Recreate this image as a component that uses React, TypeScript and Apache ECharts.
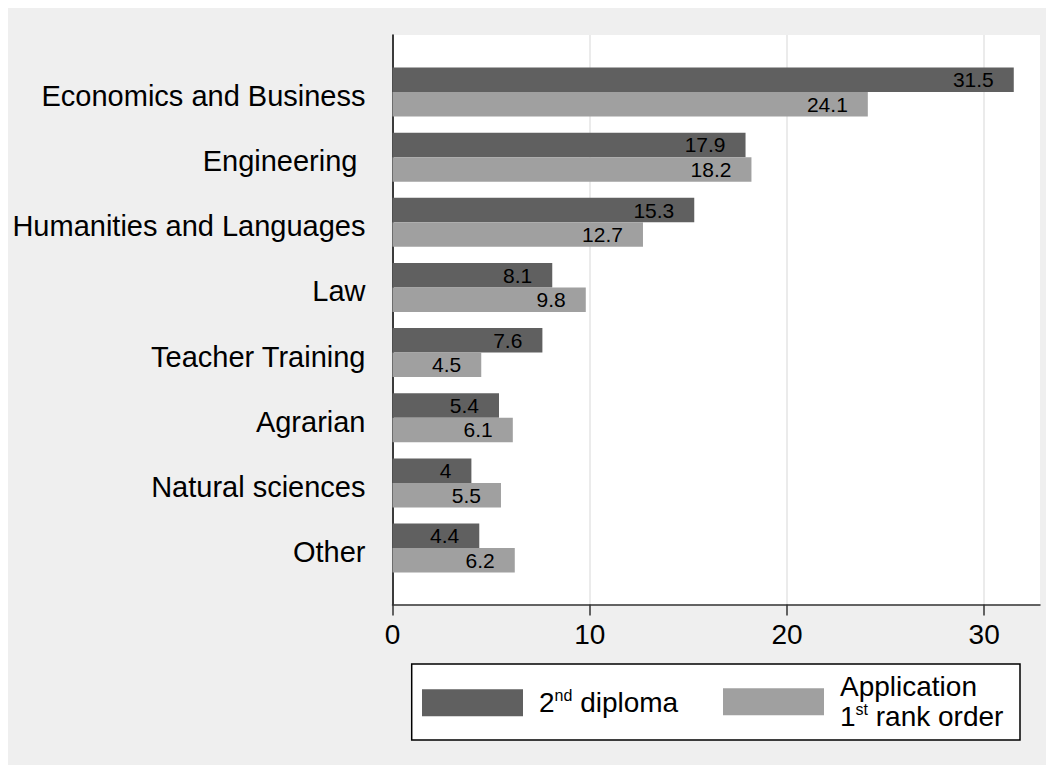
import React, { useEffect, useRef } from "react";
import * as echarts from "echarts";

const categories = [
  "Economics and Business",
  "Engineering ",
  "Humanities and Languages",
  "Law",
  "Teacher Training",
  "Agrarian",
  "Natural sciences",
  "Other",
];
const diploma = [31.5, 17.9, 15.3, 8.1, 7.6, 5.4, 4, 4.4];
const application = [24.1, 18.2, 12.7, 9.8, 4.5, 6.1, 5.5, 6.2];
const xTicks = [0, 10, 20, 30];
const seriesNames = ["2nd diploma", "Application 1st rank order"];

const XMAX = 32.83;
const FONT = "'Liberation Sans', Arial, Helvetica, sans-serif";

export default function App() {
  const ref = useRef<HTMLDivElement>(null);
  useEffect(() => {
    if (!ref.current) return;
    const chart = echarts.init(ref.current, null, { renderer: "svg" });
    const rich = {
      a: { fontSize: 28, color: "#000", lineHeight: 30, fontFamily: FONT },
      s: { fontSize: 16, color: "#000", lineHeight: 18, verticalAlign: "top", fontFamily: FONT },
    };
    const legendBase = {
      orient: "horizontal",
      icon: "rect",
      itemWidth: 101,
      itemHeight: 27,
      padding: 0,
      selectedMode: false,
      textStyle: { fontSize: 28, color: "#000", padding: [0, 0, 0, 11], rich, fontFamily: FONT },
    };
    chart.setOption({
      animation: false,
      backgroundColor: "#efefef",
      textStyle: { fontFamily: FONT },
      grid: [
        { left: 384.5, top: 27, right: 6, bottom: 160.5, show: true, backgroundColor: "#fff", borderWidth: 0 },
        { left: 384.5, top: 51.4, right: 6, bottom: 184.4 },
      ],
      xAxis: [
        {
          gridIndex: 0,
          type: "value",
          min: 0,
          max: XMAX,
          interval: 10,
          axisLine: { show: true, onZero: false, lineStyle: { color: "#333", width: 1.5 } },
          axisTick: { show: true, length: 11, customValues: xTicks, lineStyle: { color: "#333", width: 1.5 } },
          axisLabel: { customValues: xTicks, fontSize: 28, color: "#000", margin: 16, fontFamily: FONT },
          splitLine: { show: true, lineStyle: { color: "#e4e4e4", width: 1.5 } },
        },
        { gridIndex: 1, type: "value", min: 0, max: XMAX, show: false },
      ],
      yAxis: [
        {
          gridIndex: 0,
          type: "value",
          min: 0,
          max: 1,
          axisLine: { show: true, onZero: false, lineStyle: { color: "#000", width: 1.5 } },
          axisTick: { show: false },
          axisLabel: { show: false },
          splitLine: { show: false },
        },
        {
          gridIndex: 1,
          type: "category",
          data: categories,
          inverse: true,
          axisLine: { show: false },
          axisTick: { show: false },
          axisLabel: {
            fontSize: 29,
            color: "#000",
            margin: 27,
            fontFamily: FONT,
            formatter: (v: string) => `{l|${v}}`,
            rich: { l: { fontSize: 29, color: "#000", fontFamily: FONT, padding: [8, 0, 0, 0] } },
          },
          splitLine: { show: false },
        },
      ],
      legend: [
        {
          ...legendBase,
          left: 414,
          top: 679.7,
          data: [seriesNames[0]],
          formatter: () => "{a|2}{s|nd}{a| diploma}",
        },
        {
          ...legendBase,
          left: 715,
          top: 664.7,
          data: [seriesNames[1]],
          formatter: () => "{a|Application}\n{a|1}{s|st}{a| rank order}",
        },
      ],
      graphic: [
        {
          type: "rect",
          z: 0,
          shape: { x: 403.7, y: 656, width: 608.3, height: 76 },
          style: { fill: "#fff", stroke: "#000", lineWidth: 1.5 },
          silent: true,
        },
      ],
      series: [
        {
          name: seriesNames[0],
          type: "bar",
          xAxisIndex: 1,
          yAxisIndex: 1,
          data: diploma,
          barWidth: 24.5,
          barGap: "0%",
          itemStyle: { color: "#606060" },
          label: { show: true, position: "insideRight", distance: 20, fontSize: 21, color: "#000", fontFamily: FONT },
        },
        {
          name: seriesNames[1],
          type: "bar",
          xAxisIndex: 1,
          yAxisIndex: 1,
          data: application,
          barWidth: 24.5,
          barGap: "0%",
          itemStyle: { color: "#a0a0a0" },
          label: { show: true, position: "insideRight", distance: 20, fontSize: 21, color: "#000", fontFamily: FONT },
        },
      ],
    });
    return () => chart.dispose();
  }, []);
  return <div ref={ref} style={{ width: 1038, height: 757, background: "#efefef" }} />;
}
